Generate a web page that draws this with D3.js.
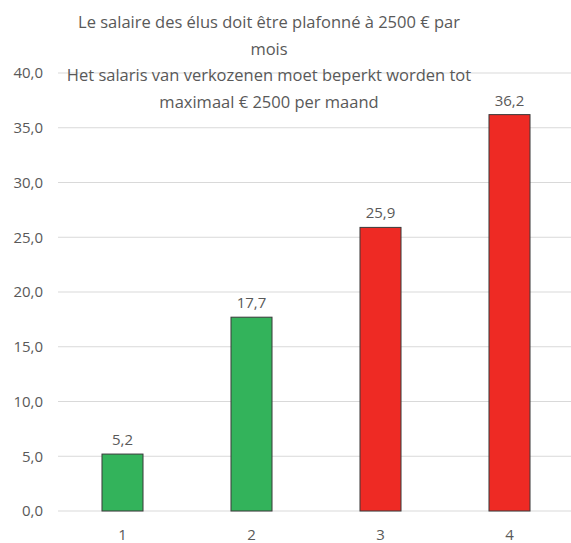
<!DOCTYPE html>
<html>
<head>
<meta charset="utf-8">
<script src="https://cdn.jsdelivr.net/npm/d3@7"></script>
<style>
  html, body { margin: 0; padding: 0; background: #fff; }
  svg { display: block; }
</style>
</head>
<body>
<svg id="chart" width="571" height="543"></svg>
<script>
const categories = ["1", "2", "3", "4"];
const values = [5.2, 17.7, 25.9, 36.2];
const barColors = ["#33b35b", "#33b35b", "#ee2a24", "#ee2a24"];
const yTicks = [0, 5, 10, 15, 20, 25, 30, 35, 40];
const titleLines = [
  "Le salaire des élus doit être plafonné à 2500 € par",
  "mois",
  "Het salaris van verkozenen moet beperkt worden tot",
  "maximaal € 2500 per maand"
];

(function () {
const svg = d3.select("#chart");
const font = "'Open Sans', 'Noto Sans', sans-serif";
const textColor = "#595959";

const plotLeft = 58, plotRight = 574, plotTop = 73, plotBottom = 511;

const x = d3.scaleBand().domain(categories).range([plotLeft, plotRight]).paddingInner(0).paddingOuter(0);
const y = d3.scaleLinear().domain([0, 40]).range([plotBottom, plotTop]);

// gridlines
svg.append("g").selectAll("line").data(yTicks).join("line")
  .attr("x1", plotLeft).attr("x2", 571)
  .attr("y1", d => y(d)).attr("y2", d => y(d))
  .attr("stroke", "#d9d9d9").attr("stroke-width", 1);

// y axis labels
const yAxis = d3.axisLeft(y).tickValues(yTicks).tickSize(0).tickPadding(0)
  .tickFormat(d => d3.format(".1f")(d).replace(".", ","));
const yg = svg.append("g").attr("transform", "translate(43,0)").call(yAxis);
yg.select(".domain").remove();
yg.selectAll("text").attr("font-family", font).attr("font-size", 15).attr("fill", textColor);

// x axis labels
const xAxis = d3.axisBottom(x).tickSize(0).tickPadding(0);
const xg = svg.append("g").attr("transform", `translate(0,${plotBottom + 18})`).call(xAxis);
xg.select(".domain").remove();
xg.selectAll("text").attr("font-family", font).attr("font-size", 15).attr("fill", textColor);

// bars
const bw = x.bandwidth() * 0.318;
svg.append("g").selectAll("rect").data(values).join("rect")
  .attr("x", (d, i) => x(categories[i]) + x.bandwidth() / 2 - bw / 2)
  .attr("width", bw)
  .attr("y", d => y(d))
  .attr("height", d => y(0) - y(d))
  .attr("fill", (d, i) => barColors[i])
  .attr("stroke", "#3a3a3a").attr("stroke-width", 1);

// value labels
svg.append("g").selectAll("text").data(values).join("text")
  .attr("x", (d, i) => x(categories[i]) + x.bandwidth() / 2)
  .attr("y", d => y(d) - 9)
  .attr("text-anchor", "middle")
  .attr("font-family", font).attr("font-size", 15).attr("fill", textColor)
  .text(d => d3.format(".1f")(d).replace(".", ","));

// title
svg.append("g").selectAll("text").data(titleLines).join("text")
  .attr("x", 269)
  .attr("y", (d, i) => 28 + i * 26.5)
  .attr("text-anchor", "middle")
  .attr("font-family", font).attr("font-size", 16.5).attr("fill", textColor)
  .text(d => d);
})();
</script>
</body>
</html>
